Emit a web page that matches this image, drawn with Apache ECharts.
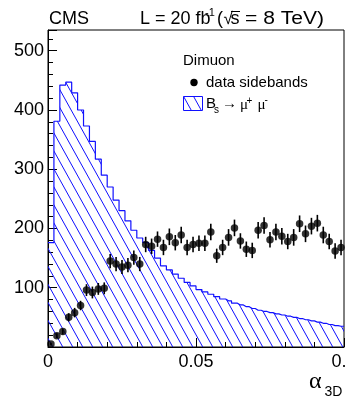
<!DOCTYPE html>
<html>
<head>
<meta charset="utf-8">
<script src="https://cdn.jsdelivr.net/npm/echarts@6/dist/echarts.min.js"></script>
<style>
  html, body { margin: 0; padding: 0; background: #fff; overflow: hidden; width: 347px; height: 399px; }
  /* canvas a bit wider than the window so the last tick label is cut at the edge like in the original */
  #chart { width: 372px; height: 399px; }
</style>
</head>
<body>
<div id="chart"></div>
<script>
// bin centres of alpha_3D (bin width 0.002)
const binCenters = [0.001, 0.003, 0.005, 0.007, 0.009, 0.011, 0.013, 0.015, 0.017, 0.019,
  0.021, 0.023, 0.025, 0.027, 0.029, 0.031, 0.033, 0.035, 0.037, 0.039,
  0.041, 0.043, 0.045, 0.047, 0.049, 0.051, 0.053, 0.055, 0.057, 0.059,
  0.061, 0.063, 0.065, 0.067, 0.069, 0.071, 0.073, 0.075, 0.077, 0.079,
  0.081, 0.083, 0.085, 0.087, 0.089, 0.091, 0.093, 0.095, 0.097, 0.099];

// Bs -> mu mu MC histogram
const signalMC = [176, 381, 442, 447, 429, 400, 373, 347, 317, 290,
  270, 248, 230, 213, 197, 184, 176, 163, 150, 137,
  130, 123, 116, 109, 103, 97, 93, 89, 85, 81,
  78, 74, 71, 68, 65, 62, 60, 58, 56, 54,
  52, 50, 48, 46, 44, 42, 40, 38, 36, 35];

// data sidebands
const sideband = [5, 19, 26, 50, 58, 70, 96, 92, 98, 99,
  145, 140, 135, 138, 151, 140, 173, 170, 182, 168,
  186, 176, 189, 168, 173, 175, 175, 194, 154, 168,
  185, 201, 179, 165, 163, 197, 205, 181, 194, 187,
  178, 185, 208, 191, 204, 209, 189, 178, 162, 168];
const sidebandErr = [2, 4, 5, 7, 8, 8, 10, 10, 10, 10,
  12, 12, 12, 12, 12, 12, 13, 13, 13, 13,
  14, 13, 14, 13, 13, 13, 13, 14, 12, 13,
  14, 14, 13, 13, 13, 14, 14, 13, 14, 14,
  13, 14, 14, 14, 14, 14, 14, 13, 13, 13];

const xTickLabels = ['0', '0.05', '0.1'];
const yTickLabels = ['100', '200', '300', '400', '500'];

const BLUE = '#1010ff';
const FONT = '"Liberation Sans", Arial, Helvetica, sans-serif';
const SERIF = '"Liberation Serif", "Times New Roman", serif';

// "\\\\" hatch like ROOT fill style
function makeHatch() {
  const c = document.createElement('canvas');
  c.width = 10;
  c.height = 18;
  const g = c.getContext('2d');
  g.strokeStyle = BLUE;
  g.lineWidth = 1;
  for (const dx of [-10, 0, 10]) {
    g.beginPath();
    g.moveTo(dx, 0);
    g.lineTo(dx + 10, 18);
    g.stroke();
  }
  return c;
}
const hatch = { image: makeHatch(), repeat: 'repeat' };

const histData = [[0, signalMC[0]]]
  .concat(binCenters.map((x, i) => [x, signalMC[i]]))
  .concat([[0.1, signalMC[signalMC.length - 1]]]);
const pointData = binCenters.map((x, i) => [x, sideband[i]]);
const errData = binCenters.map((x, i) => [x, sideband[i] - sidebandErr[i], sideband[i] + sidebandErr[i]]);

function txt(x, y, text, size, family, align, sx) {
  return {
    type: 'text', x: x, y: y, scaleX: sx || 1,
    style: { text: text, font: size + 'px ' + family, fill: '#000', align: align || 'left', verticalAlign: 'middle' }
  };
}

const chart = echarts.init(document.getElementById('chart'));

const option = {
  animation: false,
  grid: {
    left: 48, top: 30, width: 296, height: 317,
    show: true, borderColor: '#000', borderWidth: 1, backgroundColor: 'transparent'
  },
  xAxis: {
    type: 'value', min: 0, max: 0.1, interval: 0.05,
    axisLine: { show: true, lineStyle: { color: '#000', width: 1 } },
    axisTick: { show: true, inside: true, length: 9, lineStyle: { color: '#000' } },
    minorTick: { show: true, splitNumber: 5, length: 5, lineStyle: { color: '#000' } },
    splitLine: { show: false },
    axisLabel: {
      color: '#000', fontSize: 18, fontFamily: FONT, margin: 6,
      showMinLabel: true, showMaxLabel: true,
      alignMinLabel: 'center', alignMaxLabel: 'center', hideOverlap: false,
      formatter: v => {
        const s = String(Math.round(v * 100) / 100);
        return xTickLabels.includes(s) ? s : '';
      }
    }
  },
  yAxis: [
    {
      type: 'value', min: 0, max: 535, interval: 100,
      axisLine: { show: true, lineStyle: { color: '#000', width: 1 } },
      axisTick: { show: true, inside: true, length: 9, lineStyle: { color: '#000' } },
      splitLine: { show: false },
      axisLabel: {
        color: '#000', fontSize: 18, fontFamily: FONT, margin: 4,
        formatter: v => (yTickLabels.includes(String(v)) ? String(v) : '')
      }
    },
    {
      type: 'value', min: 0, max: 535, interval: 20, position: 'left',
      axisLine: { show: false },
      axisTick: { show: true, inside: true, length: 5, lineStyle: { color: '#000' } },
      splitLine: { show: false },
      axisLabel: { show: false }
    }
  ],
  series: [
    {
      name: 'Bs', type: 'line', step: 'middle', data: histData,
      symbol: 'none',
      lineStyle: { color: BLUE, width: 1.2 },
      areaStyle: { color: hatch, opacity: 1 },
      z: 1
    },
    {
      name: 'err', type: 'custom', data: errData, z: 3,
      renderItem: (params, api) => {
        const lo = api.coord([api.value(0), api.value(1)]);
        const hi = api.coord([api.value(0), api.value(2)]);
        return {
          type: 'line',
          shape: { x1: lo[0], y1: lo[1], x2: hi[0], y2: hi[1] },
          style: { stroke: '#000', lineWidth: 1.6 }
        };
      }
    },
    {
      name: 'data sidebands', type: 'scatter', data: pointData,
      symbol: 'circle', symbolSize: 7.5,
      itemStyle: { color: '#000' }, z: 4
    }
  ],
  graphic: [
    txt(49, 19.5, 'CMS', 18, FONT),
    txt(140, 19.5, 'L = 20 fb', 18, FONT),
    txt(205, 13, '-1', 11, FONT),
    txt(217, 19.5, '(', 18, FONT),
    txt(223.5, 19.5, '\u221A', 17, FONT),
    txt(230.5, 19.5, 's', 18, FONT),
    txt(245, 19.5, '= 8 TeV)', 18, FONT, 'left', 1.17),
    { type: 'line', shape: { x1: 231, y1: 11.5, x2: 240, y2: 11.5 }, style: { stroke: '#000', lineWidth: 1 } },

    // legend
    txt(183, 61, 'Dimuon', 15, FONT),
    { type: 'circle', shape: { cx: 194, cy: 82.5, r: 3.7 }, style: { fill: '#000' } },
    txt(206, 83, 'data sidebands', 15, FONT),
    { type: 'rect', shape: { x: 183.5, y: 96.5, width: 19, height: 14 }, style: { fill: hatch, stroke: BLUE, lineWidth: 1 } },
    txt(206, 104, 'B', 15, FONT),
    txt(214, 110, 's', 10, FONT),
    txt(222, 104, '\u2192', 15, FONT),
    txt(240, 105, '\u03bc', 15, SERIF),
    txt(246.5, 101.5, '+', 10, FONT),
    txt(257.5, 105, '\u03bc', 15, SERIF),
    txt(264.5, 100, '-', 10, FONT),

    // x axis title
    txt(309, 382, '\u03b1', 24, SERIF),
    txt(324.5, 392.5, '3D', 14, FONT)
  ]
};

chart.setOption(option);
</script>
</body>
</html>
